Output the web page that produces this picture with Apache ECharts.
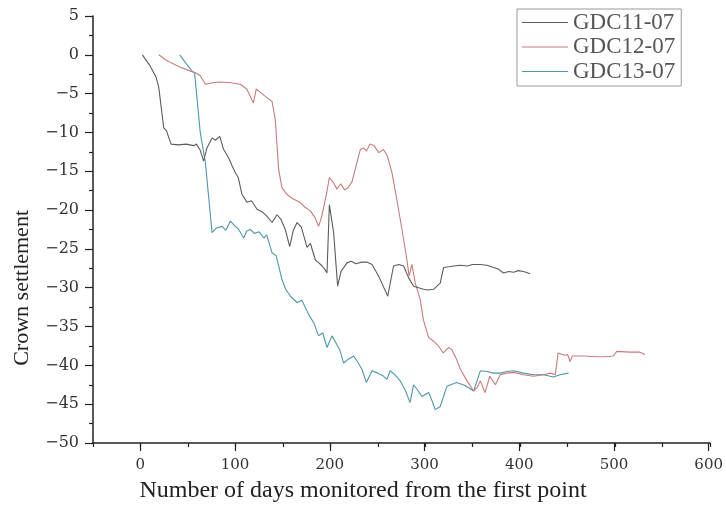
<!DOCTYPE html>
<html>
<head>
<meta charset="utf-8">
<script src="https://cdn.jsdelivr.net/npm/echarts@6/dist/echarts.min.js"></script>
<style>
  html, body { margin: 0; padding: 0; background: #fff; }
  #chart { width: 726px; height: 505px; }
</style>
</head>
<body>
<div id="chart"></div>
<script>
// Monitoring series: day offsets and crown settlement readings
const seriesNames = ['GDC11-07', 'GDC12-07', 'GDC13-07'];

const daysGDC11 = [2, 10, 16.5, 19.3, 24.5, 27.4, 32.3, 40, 48, 56, 59, 63, 66.6, 70, 75.5, 79, 83.5, 87.7, 93, 96.5, 100, 103, 107, 112.3, 117, 122.8, 128, 133.4, 138.6, 143.9, 148, 152.6, 157.2, 161, 165, 169.5, 175.5, 179, 184.2, 188, 191.3, 194, 196.5, 198, 199, 203.5, 207.7, 211.3, 217.6, 222, 227, 233, 238.6, 244, 250.8, 255, 260.5, 266.6, 272, 277.2, 282.4, 287.7, 293, 298.2, 303, 308.7, 315.8, 319.3, 325, 329.8, 337, 343.9, 350, 357.9, 365, 371.9, 377, 382.4, 388, 393, 398, 403.5, 410.5];
const valsGDC11 = [0, -1.4, -2.9, -4.2, -9.4, -9.8, -11.5, -11.6, -11.5, -11.7, -11.5, -12.3, -13.7, -12.0, -10.7, -11, -10.5, -12.2, -13.3, -14.3, -15.2, -15.8, -18, -19.0, -18.8, -19.9, -20.2, -20.8, -21.6, -20.6, -21.2, -22.5, -24.7, -22.6, -21.6, -22.2, -24.8, -24.3, -26.4, -26.8, -27.2, -27.6, -28.1, -28.2, -19.3, -22.9, -29.8, -27.9, -26.8, -26.6, -26.9, -26.7, -26.7, -27.0, -28.5, -29.6, -31.1, -27.2, -27.0, -27.2, -28.7, -29.8, -30.0, -30.2, -30.3, -30.2, -29.4, -27.4, -27.3, -27.2, -27.1, -27.2, -27.0, -27.0, -27.1, -27.4, -27.6, -28.1, -27.9, -28.0, -27.8, -27.9, -28.2];

const daysGDC12 = [19.3, 26, 33.4, 42, 52.6, 58, 63, 68.4, 76, 84, 95, 105, 112, 119, 122, 128, 135, 138.6, 142, 145.6, 149, 154.4, 160, 168, 173, 179, 184, 187.7, 191, 196.5, 199, 203.5, 207, 211, 215, 219, 223, 228, 231.6, 235, 238, 242, 246, 251, 256, 260, 265, 270, 275.5, 280.7, 283, 286, 289.5, 294.7, 298, 303.5, 308.8, 314, 319, 324.5, 328, 333, 337, 344, 351, 355, 358, 363, 368, 374, 379, 386, 393, 403.5, 414, 424.5, 431.6, 437, 440, 442, 447, 450, 452.6, 455, 466.6, 480.7, 490, 498, 501.8, 515.8, 526, 531.6];
const valsGDC12 = [0, -0.6, -1.1, -1.6, -2.1, -2.3, -2.7, -3.8, -3.6, -3.5, -3.6, -3.8, -4.4, -6.2, -4.4, -5.0, -5.7, -6.0, -8.3, -14.8, -17.1, -18.0, -18.5, -19.0, -19.6, -20.1, -21.0, -22.1, -20.8, -17.6, -15.8, -16.5, -17.3, -16.6, -17.4, -17.1, -16.3, -13.9, -12.2, -12.0, -12.4, -11.5, -11.7, -12.6, -12.2, -13.0, -15.2, -18.6, -22.5, -26.4, -28.5, -27.0, -29.4, -31.5, -34.1, -36.4, -36.9, -37.5, -38.4, -37.7, -38.0, -39.2, -40.5, -42.0, -43.3, -42.8, -42.0, -43.5, -41.4, -42.5, -41.2, -41.0, -40.9, -41.2, -41.4, -41.2, -41.0, -41.2, -38.4, -38.5, -38.7, -38.6, -39.5, -38.8, -38.8, -38.9, -38.9, -38.8, -38.2, -38.3, -38.3, -38.6];

const daysGDC13 = [41.4, 48, 54.4, 57, 59, 63, 68.4, 72, 75.4, 80, 86, 90, 94.7, 99, 103, 108.8, 112, 115.8, 120, 125, 130, 133, 138.6, 143, 149, 153, 158, 165, 170, 177, 182.5, 187.7, 192, 196.5, 201.8, 205, 210, 214, 219, 224.6, 229, 233.3, 238, 244, 250, 255, 259.6, 263, 268, 273.7, 279, 284, 287.7, 292, 296.5, 303.5, 307, 310.5, 315.8, 322.8, 333, 342, 351, 358, 365, 372, 379, 386, 393, 403.5, 414, 424.5, 435, 442, 451];
const valsGDC13 = [0, -1.1, -2.1, -2.3, -2.5, -10, -13.9, -18.5, -22.9, -22.3, -22.1, -22.6, -21.4, -22.0, -22.4, -23.6, -22.7, -22.5, -23.0, -22.8, -23.6, -23.2, -25.5, -25.9, -28.9, -30.2, -31.1, -31.9, -31.6, -33.4, -34.5, -36.2, -35.8, -37.7, -36.2, -36.9, -38.0, -39.7, -39.2, -38.8, -39.6, -40.5, -42.2, -40.7, -41.0, -41.3, -41.8, -40.7, -41.2, -42.0, -43.2, -44.8, -42.5, -43.2, -44.0, -43.5, -44.5, -45.7, -45.3, -42.7, -42.2, -42.6, -43.3, -40.7, -40.8, -41.0, -41.0, -40.8, -40.7, -41.0, -41.2, -41.2, -41.5, -41.2, -41.0];

// Axis ranges and labelled ticks
const xMin = -50, xMax = 600, xMinorStep = 50;
const xMajorTicks = [0, 100, 200, 300, 400, 500, 600];
const yMin = -50, yMax = 5, yStep = 5;

const lineColors = ['#5c5c5c', '#c97b7b', '#4d97a9'];
const axisColor = '#222';
const serif = '"Liberation Serif", "DejaVu Serif", serif';
const tickFont = '"DejaVu Serif", "Liberation Serif", serif';

const pairs = (d, v) => d.map((x, i) => [x, v[i]]);
const allSeries = [
  pairs(daysGDC11, valsGDC11),
  pairs(daysGDC12, valsGDC12),
  pairs(daysGDC13, valsGDC13)
];

const gridBox = { left: 93, right: 16, top: 16, bottom: 62, containLabel: false };
const minus = v => String(v).replace('-', '\u2212');

const chart = echarts.init(document.getElementById('chart'), null, { renderer: 'canvas' });
chart.setOption({
  animation: false,
  backgroundColor: '#fff',
  color: lineColors,
  grid: [Object.assign({}, gridBox), Object.assign({}, gridBox)],
  legend: {
    data: seriesNames.map((name, i) => ({
      name: name,
      icon: 'rect',
      itemStyle: { color: lineColors[i], borderWidth: 0 }
    })),
    orient: 'vertical',
    left: 517,
    top: 9,
    padding: [2, 6, 3, 5],
    itemGap: 1.5,
    itemWidth: 46,
    itemHeight: 1.2,
    borderColor: '#999',
    borderWidth: 1,
    textStyle: { fontFamily: serif, fontSize: 23, color: '#555' }
  },
  xAxis: [
    {
      // minor ticks every 50 days
      type: 'value', gridIndex: 0, min: xMin, max: xMax, interval: xMinorStep,
      axisLine: { show: true, onZero: false, lineStyle: { color: axisColor, width: 1.5 } },
      axisTick: { show: true, length: 4, lineStyle: { color: axisColor, width: 1.2 } },
      axisLabel: { show: false },
      splitLine: { show: false }
    },
    {
      // labelled major ticks every 100 days
      type: 'value', gridIndex: 1, min: xMin, max: xMax,
      axisLine: { show: false, onZero: false },
      axisTick: { show: true, length: 8, customValues: xMajorTicks, lineStyle: { color: axisColor, width: 1.2 } },
      axisLabel: {
        show: true, customValues: xMajorTicks, margin: 15,
        fontFamily: tickFont, fontSize: 15, color: '#333', formatter: minus
      },
      splitLine: { show: false }
    }
  ],
  yAxis: [
    {
      type: 'value', gridIndex: 0, min: yMin, max: yMax, interval: yStep,
      axisLine: { show: true, onZero: false, lineStyle: { color: axisColor, width: 1.5 } },
      axisTick: { show: true, length: 8, lineStyle: { color: axisColor, width: 1.2 } },
      minorTick: { show: true, splitNumber: 2, length: 4, lineStyle: { color: axisColor, width: 1.2 } },
      axisLabel: { margin: 14, fontFamily: tickFont, fontSize: 16, color: '#333', formatter: minus },
      splitLine: { show: false }
    },
    { type: 'value', gridIndex: 1, min: yMin, max: yMax, show: false }
  ],
  series: allSeries.map((data, i) => ({
    name: seriesNames[i],
    type: 'line',
    xAxisIndex: 0,
    yAxisIndex: 0,
    data: data,
    symbol: 'none',
    smooth: false,
    color: lineColors[i],
    lineStyle: { color: lineColors[i], width: 1.1 },
    itemStyle: { color: lineColors[i] },
    z: 3 - i
  })),
  graphic: [
    {
      type: 'text', left: 11, top: 210, rotation: Math.PI / 2,
      style: { text: 'Crown settlement', font: '22px ' + serif, fill: '#222' }
    },
    {
      type: 'text', x: 363, y: 491,
      style: {
        text: 'Number of days monitored from the first point',
        font: '24px ' + serif, fill: '#222', align: 'center', verticalAlign: 'middle'
      }
    }
  ]
});
</script>
</body>
</html>
